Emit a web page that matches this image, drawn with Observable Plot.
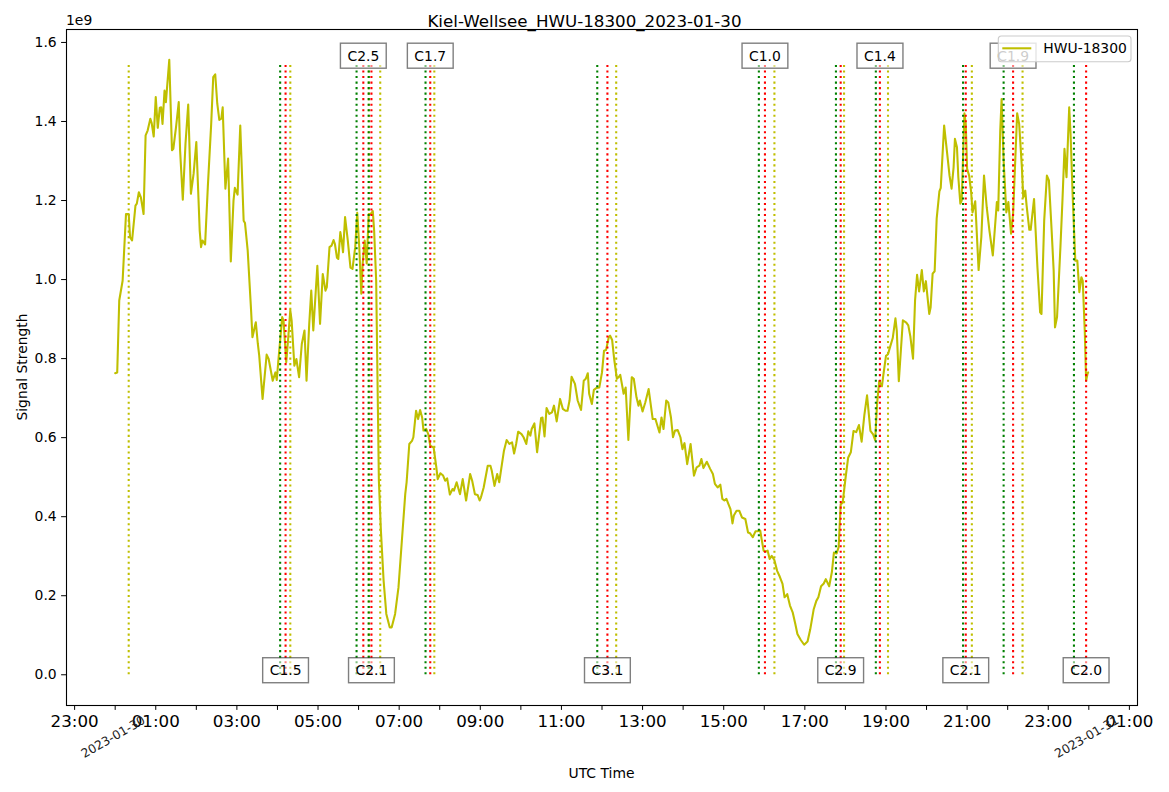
<!DOCTYPE html>
<html><head><meta charset="utf-8">
<script src="https://cdn.jsdelivr.net/npm/d3@7"></script>
<script src="https://cdn.jsdelivr.net/npm/@observablehq/plot@0.6"></script>
<style>
html,body{margin:0;padding:0;background:#fff;}
svg{display:block;}
</style></head><body><div id="chart"></div>
<script>
// ---- data (minutes after 2023-01-30 00:00 UTC, signal in units of 1e9) ----
const minutes = [
0,3,6,11,16,20,22,25,30,32,35,38,42,45,48,52,54,57,60,63,66,68,70,73,75,80,84,86,90,94,96,100,104,108,112,116,120,125,127,129,133,137,142,145,148,151,154,157,159,163,167,171,175,177,181,185,190,192,196,201,203,208,211,213,218,224,227,233,237,239,241,
247,249,253,256,259,261,265,268,272,276,280,283,287,290,293,299,303,307,311,313,317,320,323,325,328,330,333,335,337,340,344,348,351,355,358,361,364,366,369,372,375,378,381,383,386,388,390,393,397,401,406,409,414,419,424,429,431,435,439,441,445,448,451,454,456,460,463,
466,471,475,477,481,485,488,491,495,499,501,505,510,514,519,525,528,532,536,539,541,545,551,555,557,561,565,568,572,575,579,583,587,590,593,596,601,604,608,611,614,616,620,624,630,632,635,638,642,646,649,653,658,662,666,669,672,675,680,684,689,693,696,699,701,705,708,712,716,720,723,726,730,732,735,738,742,745,
747,752,755,759,764,767,771,774,776,780,784,789,795,799,805,808,811,815,818,822,825,828,832,836,839,842,846,851,856,860,864,867,870,875,880,884,887,891,895,898,901,904,907,910,913,915,919,923,927,932,936,939,943,947,950,954,956,959,962,965,968,971,975,979,983,987,990,994,998,1002,1006,1009,1014,1019,1024,
1028,1033,1037,1040,1044,1048,1051,1056,1060,1063,1067,1070,1073,1076,1080,1084,1088,1092,1096,1100,1104,1108,1112,1117,1121,1124,1127,1130,1134,1136,1140,1143,1146,1150,1154,1156,1159,1162,1165,1170,1173,1176,1180,1183,1186,1189,1193,1196,1199,1204,1206,1209,1212,1215,1219,1221,1226,1230,1234,
1237,1240,1242,1245,1247,1250,1252,1256,1258,1260,1263,1266,1268,1272,1277,1281,1285,1289,1293,1298,1301,1304,1306,1309,1311,1314,1318,1321,1325,1328,1331,1334,1337,1341,1343,1346,1348,1352,1354,1359,1364,1368,1370,1374,1378,1381,1385,1388,1390,1393,1398,1401,1404,1407,1411,1413,1416,1420,1423,1426,1429,1431,1434,1436,1438,1439
];
const signal = [
0.763,0.765,0.947,0.997,1.166,1.166,1.107,1.099,1.187,1.192,1.221,1.208,1.166,1.365,1.377,1.407,1.396,1.362,1.462,1.384,1.435,1.436,1.394,1.478,1.449,1.556,1.327,1.331,1.386,1.449,1.327,1.202,1.344,1.443,1.217,1.268,1.348,1.124,1.082,1.099,1.089,1.234,1.394,1.512,1.519,1.445,1.404,1.407,1.436,1.230,1.306,1.046,1.200,1.232,1.215,1.390,1.149,1.143,1.073,0.922,0.854,0.892,0.837,0.808,0.698,0.810,0.799,0.744,0.765,0.746,0.788,
0.905,0.896,0.791,0.854,0.922,0.896,0.782,0.799,0.753,0.837,0.871,0.744,0.888,0.972,0.871,1.035,0.888,1.014,0.972,0.981,1.082,1.086,1.100,1.090,1.055,1.052,1.120,1.099,1.069,1.158,1.099,1.030,1.027,1.082,1.169,1.082,0.964,1.040,1.099,1.041,1.166,1.166,1.173,1.124,0.997,0.744,0.491,0.365,0.238,0.154,0.120,0.120,0.154,0.221,0.339,0.457,0.487,0.584,0.592,0.601,0.668,0.647,0.670,0.651,0.618,0.622,0.609,
0.580,0.575,0.525,0.495,0.510,0.504,0.491,0.497,0.456,0.470,0.466,0.487,0.457,0.495,0.441,0.508,0.491,0.457,0.455,0.441,0.449,0.474,0.529,0.529,0.516,0.478,0.508,0.487,0.533,0.567,0.594,0.584,0.588,0.560,0.584,0.615,0.609,0.601,0.584,0.616,0.605,0.622,0.636,0.563,0.650,0.651,0.603,0.675,0.660,0.664,0.681,0.641,0.698,0.673,0.668,0.668,0.694,0.754,0.736,0.694,0.670,0.744,0.749,0.763,0.711,0.685,0.721,0.726,0.727,0.765,0.820,0.822,0.854,0.858,0.847,0.799,0.749,0.754,
0.759,0.711,0.727,0.594,0.753,0.749,0.702,0.681,0.694,0.666,0.689,0.723,0.647,0.647,0.613,0.651,0.622,0.694,0.689,0.651,0.601,0.618,0.619,0.601,0.571,0.586,0.533,0.584,0.504,0.525,0.529,0.546,0.523,0.539,0.521,0.508,0.483,0.474,0.481,0.445,0.441,0.445,0.432,0.419,0.383,0.403,0.415,0.415,0.398,0.394,0.360,0.358,0.348,0.363,0.363,0.365,0.344,0.314,0.312,0.314,0.293,0.301,0.290,0.263,0.248,0.230,0.196,0.204,0.175,0.158,0.128,0.103,0.088,0.076,0.084,
0.115,0.165,0.187,0.196,0.224,0.231,0.242,0.224,0.260,0.309,0.307,0.323,0.431,0.436,0.495,0.549,0.563,0.617,0.614,0.632,0.590,0.657,0.707,0.617,0.608,0.594,0.689,0.743,0.730,0.757,0.807,0.811,0.829,0.852,0.902,0.870,0.743,0.820,0.897,0.891,0.884,0.857,0.800,0.947,1.012,0.970,1.024,0.970,0.996,0.913,0.929,1.015,1.021,1.155,1.223,1.232,1.390,1.327,1.263,
1.230,1.284,1.356,1.335,1.259,1.192,1.200,1.421,1.394,1.280,1.263,1.221,1.170,1.198,1.024,1.107,1.263,1.183,1.124,1.061,1.128,1.196,1.175,1.377,1.457,1.301,1.170,1.196,1.116,1.166,1.293,1.421,1.394,1.284,1.208,1.225,1.187,1.126,1.126,1.204,1.031,0.917,0.913,1.149,1.263,1.251,1.124,1.023,0.879,0.905,1.082,1.200,1.331,1.259,1.436,1.369,1.217,1.048,1.048,0.968,1.006,0.997,0.871,0.744,0.761,0.765
];
const flareLabels = [null,"C1.5","C2.5","C2.1","C1.7","C3.1","C1.0","C2.9","C1.4","C2.1","C1.9","C2.0"];
const flareStarts = [null,"04:04","05:57","06:15","07:39","11:53","15:52","17:46","18:45","20:54","21:54","23:38"];
const flarePeaks  = [null,"04:12","06:07","06:19","07:46","12:08","16:01","17:53","18:51","20:58","22:08","23:56"];
const flareEnds   = ["00:20","04:19","06:15","06:32","07:52","12:21","16:15","17:58","19:03","21:07","22:22",null];
const labelSides  = [null,"bottom","top","bottom","top","bottom","top","bottom","top","bottom","top","bottom"];
const yTicks = [0,0.2,0.4,0.6,0.8,1.0,1.2,1.4,1.6];
const titleText = "Kiel-Wellsee_HWU-18300_2023-01-30";
const seriesName = "HWU-18300";
const xLabel = "UTC Time";
const yLabel = "Signal Strength";
const yOffsetLabel = "1e9";

// ---- build ----
const day = Date.UTC(2023,0,30);
const toDate = m => new Date(day + m*60000);
const hm = s => { const [h,m] = s.split(":").map(Number); return toDate(h*60+m); };
const series = minutes.map((m,i)=>({t:toDate(m), v:signal[i]}));
const rules = [];
flareLabels.forEach((l,i)=>{
  if (flareStarts[i]) rules.push({t:hm(flareStarts[i]), c:"#008000"});
  if (flarePeaks[i]) rules.push({t:hm(flarePeaks[i]), c:"#ff0000"});
  if (flareEnds[i]) rules.push({t:hm(flareEnds[i]), c:"#bfbf00"});
});
const labels = flareLabels.map((l,i)=> l ? {t:hm(flarePeaks[i]), label:l, side:labelSides[i]} : null).filter(Boolean);
const topLabels = labels.filter(d=>d.side==="top");
const bottomLabels = labels.filter(d=>d.side==="bottom");
const labelSet = new Set(flareLabels.filter(Boolean));

const W=1169, H=792, mL=66, mR=32, mT=29, mB=87;
const xDomain=[toDate(-72), toDate(1440+72)];
const yDomain=[-0.07775, 1.63275];
const hourTicks = d3.utcHour.range(toDate(-60), toDate(1440+61));
const fmt = d3.utcFormat("%H:%M");
const dfmt = d3.utcFormat("%Y-%m-%d");

const plot = Plot.plot({
  width:W, height:H, marginLeft:mL, marginRight:mR, marginTop:mT, marginBottom:mB,
  style:{fontFamily:"DejaVu Sans", color:"black", background:"white", overflow:"visible"},
  x:{type:"utc", domain:xDomain},
  y:{domain:yDomain},
  color:{type:"identity"},
  marks:[
    Plot.line(series,{x:"t", y:"v", stroke:"#bfbf00", strokeWidth:2.08}),
    Plot.ruleX(rules,{x:"t", y1:0, y2:1.55, stroke:"c", strokeWidth:2.08, strokeDasharray:"2.08,3.44"}),
    Plot.text(topLabels,{x:"t", y:1.56, dy:-2, text:"label", fontSize:13.9, fill:"black"}),
    Plot.text(bottomLabels,{x:"t", y:0, dy:-4, text:"label", fontSize:13.9, fill:"black"}),
    Plot.frame({stroke:"black", strokeWidth:1.1}),
    Plot.axisX({ticks:hourTicks, tickFormat:d=>d.getUTCHours()%2 ? fmt(d) : "", tickSize:4.9, tickPadding:4.9, fontSize:16.7, label:null}),
    Plot.axisY({ticks:yTicks, tickFormat:d=>d.toFixed(1), tickSize:4.9, tickPadding:4.9, fontSize:13.9, label:null}),
    Plot.text([toDate(0), toDate(1440)],{x:d=>d, text:d=>dfmt(d), frameAnchor:"bottom", dy:35, rotate:-30, fontSize:12.3, fill:"#222"})
  ]
});
document.getElementById("chart").appendChild(plot);

const svg = d3.select(plot);
// boxes behind flare labels
const labelNodes = svg.selectAll("text").nodes().filter(n => labelSet.has(n.textContent));
labelNodes.forEach(node => {
  const b = node.getBBox();
  const padX = 7, h = 25;
  const cy = b.y + b.height/2;
  const r = document.createElementNS("http://www.w3.org/2000/svg", "rect");
  const tr = node.getAttribute("transform");
  if (tr) r.setAttribute("transform", tr);
  r.setAttribute("x", b.x - padX); r.setAttribute("y", cy - h/2);
  r.setAttribute("width", b.width + 2*padX); r.setAttribute("height", h);
  r.setAttribute("fill", "white"); r.setAttribute("fill-opacity", 0.5);
  r.setAttribute("stroke", "black"); r.setAttribute("stroke-opacity", 0.5); r.setAttribute("stroke-width", 1.4);
  node.parentNode.insertBefore(r, node);
});
const fx0 = mL, fx1 = W - mR, fy0 = mT, fy1 = H - mB;
// title
svg.append("text").attr("x", W/2).attr("y", fy0 - 2).attr("text-anchor","middle")
  .attr("font-size", 16.7).attr("fill","black").text(titleText);
// offset label
svg.append("text").attr("x", fx0).attr("y", fy0 - 4).attr("text-anchor","start")
  .attr("font-size", 13.9).attr("fill","black").text(yOffsetLabel);
// axis labels
svg.append("text").attr("transform", `translate(26.5,${(fy0+fy1)/2}) rotate(-90)`).attr("text-anchor","middle")
  .attr("font-size", 13.9).attr("fill","black").text(yLabel);
svg.append("text").attr("x", (fx0+fx1)/2).attr("y", fy1 + 73).attr("text-anchor","middle")
  .attr("font-size", 13.9).attr("fill","black").text(xLabel);
// legend
const lg = svg.append("g").attr("transform", `translate(${fx1 - 6 - 132.7},${fy0 + 7})`);
lg.append("rect").attr("width", 132.7).attr("height", 25.7).attr("rx", 3)
  .attr("fill","white").attr("fill-opacity",0.8).attr("stroke","#cccccc").attr("stroke-width",1.1);
lg.append("line").attr("x1", 4).attr("x2", 33).attr("y1", 12.3).attr("y2", 12.3)
  .attr("stroke","#bfbf00").attr("stroke-width",2.08);
lg.append("text").attr("x", 45).attr("y", 17.2).attr("text-anchor","start")
  .attr("font-size", 13.9).attr("fill","black").text(seriesName);
</script></body></html>
